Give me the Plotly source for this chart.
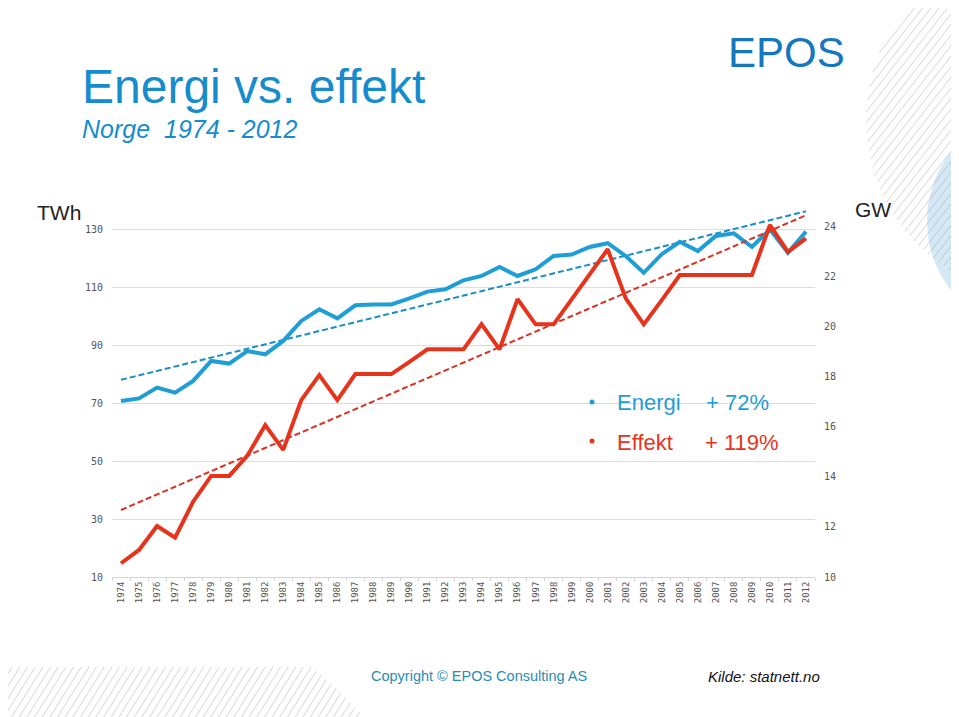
import math
import plotly.graph_objects as go

# ---------------- data ----------------
years = ["1974", "1975", "1976", "1977", "1978", "1979", "1980", "1981", "1982", "1983",
         "1984", "1985", "1986", "1987", "1988", "1989", "1990", "1991", "1992", "1993",
         "1994", "1995", "1996", "1997", "1998", "1999", "2000", "2001", "2002", "2003",
         "2004", "2005", "2006", "2007", "2008", "2009", "2010", "2011", "2012"]

energi_twh = [70.7, 71.6, 75.3, 73.6, 77.6, 84.5, 83.6, 87.9, 86.8, 91.4,
              98.3, 102.3, 99.2, 103.7, 104.0, 104.0, 106.1, 108.4, 109.2, 112.3,
              113.8, 116.9, 113.8, 116.1, 120.7, 121.2, 123.8, 125.1, 120.7, 114.9,
              121.3, 125.6, 122.4, 127.6, 128.5, 123.8, 129.9, 121.8, 129.1]

effekt_gw = [10.55, 11.08, 12.04, 11.57, 13.01, 14.04, 14.04, 14.84, 16.07, 15.08,
             17.07, 18.07, 17.07, 18.11, 18.11, 18.11, 18.6, 19.1, 19.1, 19.1,
             20.11, 19.1, 21.11, 20.1, 20.1, 21.1, 22.07, 23.1, 21.14, 20.1,
             21.07, 22.07, 22.07, 22.07, 22.07, 22.07, 24.07, 23.0, 23.54]

trend_years = ["1974", "2012"]
energi_trend = [78.0, 136.1]
effekt_trend = [12.68, 24.46]

left_ticks = [10, 30, 50, 70, 90, 110, 130]
right_ticks = [10, 12, 14, 16, 18, 20, 22, 24]

# ---------------- styling ----------------
BLUE = "#1f9dd5"
BLUE_D = "#1a8fc0"
RED = "#e8331c"
RED_D = "#d93224"
TITLE_BLUE = "#168ccd"
OFF = 8                       # page body margin
W, H = 959 - OFF, 717 - OFF   # figure size so page fits the window
PL, PR, PT, PB = 112, 815, 200, 577  # plot area in window pixels


def px_x(px):
    return (px - PL) / (PR - PL)


def px_y(py):
    return (PB - py) / (PB - PT)


fig = go.Figure()

fig.add_trace(go.Scatter(x=trend_years, y=energi_trend, mode="lines",
                         line=dict(color=BLUE_D, width=2, dash="6px,3px"),
                         hoverinfo="skip", showlegend=False))
fig.add_trace(go.Scatter(x=trend_years, y=effekt_trend, mode="lines", yaxis="y2",
                         line=dict(color=RED_D, width=2, dash="6px,3px"),
                         hoverinfo="skip", showlegend=False))
fig.add_trace(go.Scatter(x=years, y=energi_twh, mode="lines", name="Energi",
                         line=dict(color=BLUE, width=4), showlegend=False))
fig.add_trace(go.Scatter(x=years, y=effekt_gw, mode="lines", name="Effekt", yaxis="y2",
                         line=dict(color=RED, width=4), showlegend=False))

tick_font = dict(family="DejaVu Sans Mono", size=10, color="#555555")

fig.update_layout(
    width=W, height=H,
    margin=dict(l=PL - OFF, r=959 - PR, t=PT - OFF, b=717 - PB, autoexpand=False),
    paper_bgcolor="white", plot_bgcolor="white",
    xaxis=dict(type="category", categoryorder="array", categoryarray=years,
               range=[-0.5, len(years) - 0.5],
               tickangle=-90, tickfont=dict(family="DejaVu Sans Mono", size=9, color="#555555"),
               showgrid=False, showline=True, linecolor="#d4d4d4", linewidth=1,
               ticks="outside", ticklen=3, tickcolor="#d4d4d4", tickson="boundaries",
               zeroline=False, fixedrange=True, automargin=False),
    yaxis=dict(range=[10, 140], tickvals=left_ticks, ticktext=[str(v) for v in left_ticks],
               showgrid=True, gridcolor="#dddddd", gridwidth=1, zeroline=False,
               showline=False, tickfont=tick_font, ticklabelstandoff=8, automargin=False),
    yaxis2=dict(range=[10, 25.07], tickvals=right_ticks, ticktext=[str(v) for v in right_ticks],
                overlaying="y", side="right", showgrid=False, zeroline=False,
                showline=False, tickfont=tick_font, ticklabelstandoff=8, automargin=False),
)

shapes = []

# ---- decorative light-blue circle (right edge) ----
cx, cy, r = 1039, 221, 112
shapes.append(dict(type="circle", xref="paper", yref="paper", layer="below",
                   x0=px_x(cx - r), x1=px_x(cx + r), y0=px_y(cy + r), y1=px_y(cy - r),
                   fillcolor="#d5e8f5", line=dict(width=0)))


def hatch(ccx, ccy, rr, angle_deg, spacing, ymin=None, color="rgba(150,150,150,0.4)"):
    a = math.radians(angle_deg)
    d = (math.cos(a), -math.sin(a))
    n = (math.sin(a), math.cos(a))
    nc = n[0] * ccx + n[1] * ccy
    s = nc - rr
    out = []
    while s < nc + rr:
        dist = s - nc
        h = math.sqrt(max(rr * rr - dist * dist, 0))
        mx, my = ccx + dist * n[0], ccy + dist * n[1]
        x0, y0 = mx - h * d[0], my - h * d[1]
        x1, y1 = mx + h * d[0], my + h * d[1]
        if ymin is not None:
            if y0 < ymin and y1 < ymin:
                s += spacing
                continue
            if y0 < ymin:
                t = (ymin - y0) / (y1 - y0)
                x0, y0 = x0 + t * (x1 - x0), ymin
            if y1 < ymin:
                t = (ymin - y0) / (y1 - y0)
                x1, y1 = x0 + t * (x1 - x0), ymin
        out.append(dict(type="line", xref="paper", yref="paper", layer="below",
                        x0=px_x(x0), y0=px_y(y0), x1=px_x(x1), y1=px_y(y1),
                        line=dict(color=color, width=1)))
        s += spacing
    return out


shapes += hatch(1042, 120, 176, 52, 6.5)
shapes += hatch(50, 1000, 423, 58, 6.5, ymin=667)

# legend bullets
for (bx, by, col) in [(592, 402, BLUE), (592, 441, RED)]:
    shapes.append(dict(type="circle", xref="paper", yref="paper",
                       x0=px_x(bx - 2.5), x1=px_x(bx + 2.5), y0=px_y(by + 2.5), y1=px_y(by - 2.5),
                       fillcolor=col, line=dict(width=0)))

fig.update_layout(shapes=shapes)

ann = []


def text(s, x, y, size, color, xanchor="left", italic=False, family="Liberation Sans, Arial"):
    ann.append(dict(text=s, xref="paper", yref="paper", x=px_x(x), y=px_y(y),
                    xanchor=xanchor, yanchor="middle", showarrow=False,
                    font=dict(family=family, size=size, color=color,
                              style="italic" if italic else "normal")))


text("Energi vs. effekt", 80, 86, 48, TITLE_BLUE)
text("Norge\u00a0 1974 - 2012", 80, 129, 25, TITLE_BLUE, italic=True)
text("EPOS", 726, 52, 42, "#1578bd")
text("TWh", 35, 212, 21, "#222222")
text("GW", 853, 209, 21, "#222222")
text("Energi", 615, 402, 22, BLUE)
text("+ 72%", 704, 402, 22, BLUE)
text("Effekt", 615, 442, 22, RED)
text("+ 119%", 703, 442, 22, RED)
text("Copyright © EPOS Consulting AS", 369, 676, 14.5, "#2a8cb4")
text("Kilde: statnett.no", 706, 676, 15, "#111111", italic=True)

fig.update_layout(annotations=ann)

fig.write_html("out.html")
